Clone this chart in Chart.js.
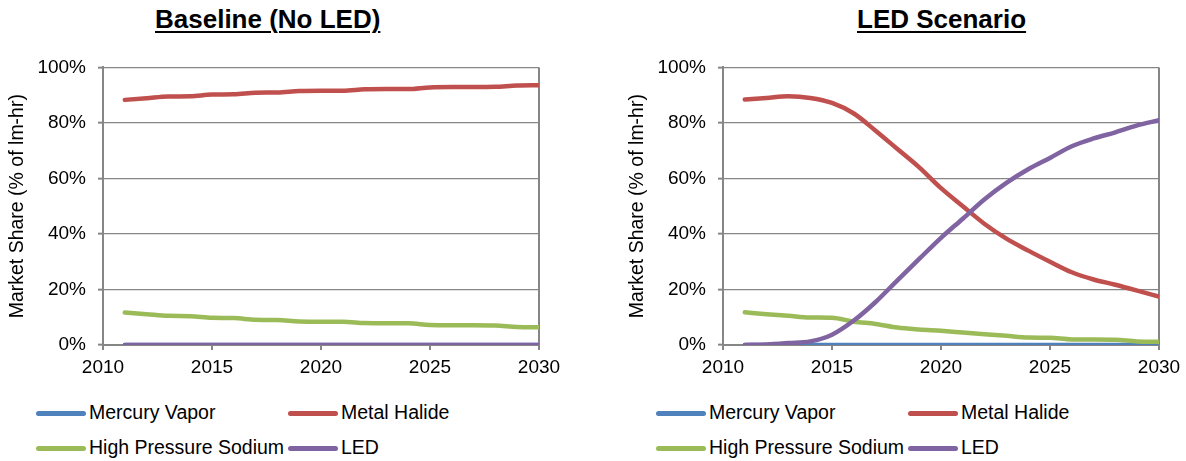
<!DOCTYPE html>
<html>
<head>
<meta charset="utf-8">
<script src="https://cdn.jsdelivr.net/npm/chart.js@4.4.1/dist/chart.umd.min.js"></script>
<style>
  html, body { margin: 0; padding: 0; background: #fff; }
  body { width: 1186px; height: 461px; position: relative; overflow: hidden; font-family: 'Liberation Sans', Arial, sans-serif; }
  .title { position: absolute; top: 6px; font-weight: bold; font-size: 26px; line-height: 26px; color: #000;
           text-decoration: underline; text-decoration-thickness: 2px; text-underline-offset: 3px; white-space: nowrap; }
  canvas { position: absolute; top: 44px; }
  .leg { position: absolute; display: flex; align-items: center; font-size: 19.5px; line-height: 19.5px; height: 20px; color: #000; white-space: nowrap; }
  .leg .sw { display: inline-block; width: 50px; height: 5px; border-radius: 3px; margin-right: 3px; }
</style>
</head>
<body>
<div class="title" style="left:155px">Baseline (No LED)</div>
<div class="title" style="left:857px">LED Scenario</div>
<canvas id="c1" width="569" height="341" style="left:0px"></canvas>
<canvas id="c2" width="569" height="341" style="left:620px"></canvas>
<div id="legends"></div>
<script>
// ---- data ----
const years = [2011, 2012, 2013, 2014, 2015, 2016, 2017, 2018, 2019, 2020,
               2021, 2022, 2023, 2024, 2025, 2026, 2027, 2028, 2029, 2030];
const seriesNames = ['Mercury Vapor', 'Metal Halide', 'High Pressure Sodium', 'LED'];
const seriesColors = ['#4F81BD', '#C0504D', '#9BBB59', '#8064A2'];
const xTicks = [2010, 2015, 2020, 2025, 2030];
const yTicks = [0, 20, 40, 60, 80, 100];

// Baseline (No LED)
const baseMV  = [0, 0, 0, 0, 0, 0, 0, 0, 0, 0, 0, 0, 0, 0, 0, 0, 0, 0, 0, 0];
const baseMH  = [88.3, 88.9, 89.5, 89.6, 90.2, 90.3, 90.9, 91.0, 91.5, 91.6,
                 91.6, 92.1, 92.2, 92.2, 92.8, 92.9, 92.9, 93.0, 93.5, 93.6];
const baseHPS = [11.7, 11.1, 10.5, 10.4, 9.8, 9.7, 9.1, 9.0, 8.5, 8.4,
                 8.4, 7.9, 7.8, 7.8, 7.2, 7.1, 7.1, 7.0, 6.5, 6.4];
const baseLED = [0, 0, 0, 0, 0, 0, 0, 0, 0, 0, 0, 0, 0, 0, 0, 0, 0, 0, 0, 0];

// LED Scenario
const ledMV  = [0, 0, 0, 0, 0, 0, 0, 0, 0, 0, 0, 0, 0, 0, 0, 0, 0, 0, 0, 0];
const ledMH  = [88.4, 89.0, 89.6, 89.0, 87.2, 83.4, 77.2, 70.6, 64.0, 56.5,
                50.0, 43.6, 38.3, 34.0, 30.0, 26.2, 23.6, 21.7, 19.6, 17.4];
const ledHPS = [11.8, 11.1, 10.5, 9.9, 9.8, 8.4, 7.6, 6.3, 5.6, 5.1,
                4.5, 3.9, 3.3, 2.7, 2.6, 2.0, 2.0, 1.9, 1.3, 1.2];
const ledLED = [0, 0.2, 0.7, 1.3, 3.7, 8.8, 15.5, 23.3, 31.0, 38.6,
                45.5, 52.5, 58.4, 63.3, 67.4, 71.6, 74.4, 76.6, 79.1, 81.0];

// ---- chart building ----
const FONT = "'Liberation Sans', Arial, sans-serif";
const GRAY = '#868686';

function makeDatasets(valueSets) {
  const orders = [4, 3, 2, 1];
  return valueSets.map((vals, i) => ({
    label: seriesNames[i],
    data: years.map((yr, j) => ({ x: yr, y: vals[j] })),
    borderColor: seriesColors[i],
    backgroundColor: seriesColors[i],
    borderWidth: 4.5,
    pointRadius: 0,
    pointHoverRadius: 0,
    cubicInterpolationMode: 'monotone',
    borderCapStyle: 'round',
    borderJoinStyle: 'round',
    fill: false,
    order: orders[i]
  }));
}

function makeChart(id, valueSets) {
  return new Chart(document.getElementById(id), {
    type: 'line',
    data: { datasets: makeDatasets(valueSets) },
    options: {
      responsive: false,
      animation: false,
      events: [],
      layout: { padding: { left: 0, right: 30, top: 20, bottom: 0 } },
      plugins: { legend: { display: false }, tooltip: { enabled: false }, title: { display: false } },
      scales: {
        x: {
          type: 'linear',
          min: xTicks[0],
          max: xTicks[xTicks.length - 1],
          afterBuildTicks: (s) => { s.ticks = xTicks.map(v => ({ value: v })); },
          afterFit: (s) => { s.height = 40; },
          ticks: {
            callback: (v) => String(v),
            font: { family: FONT, size: 19 },
            color: '#000',
            padding: 6,
            maxRotation: 0,
            autoSkip: false
          },
          grid: {
            color: (ctx) => (ctx.tick && ctx.tick.value === xTicks[xTicks.length - 1]) ? GRAY : 'rgba(0,0,0,0)',
            lineWidth: 2,
            drawTicks: true,
            tickLength: 5,
            tickColor: GRAY,
            tickWidth: 2
          },
          border: { display: true, color: GRAY, width: 2 }
        },
        y: {
          min: yTicks[0],
          max: yTicks[yTicks.length - 1],
          afterBuildTicks: (s) => { s.ticks = yTicks.map(v => ({ value: v })); },
          afterFit: (s) => { s.width = 103; },
          ticks: {
            callback: (v) => v + '%',
            font: { family: FONT, size: 19 },
            color: '#000',
            padding: 12
          },
          grid: {
            color: GRAY,
            lineWidth: 1.3,
            borderDash: [7, 4],
            drawTicks: true,
            tickLength: 5,
            tickColor: GRAY,
            tickWidth: 2,
            tickBorderDash: []
          },
          border: { display: true, color: GRAY, width: 2 },
          title: {
            display: true,
            text: 'Market Share (% of lm-hr)',
            font: { family: FONT, size: 19.5 },
            color: '#000',
            padding: { top: 6, bottom: 0 }
          }
        }
      }
    }
  });
}

makeChart('c1', [baseMV, baseMH, baseHPS, baseLED]);
makeChart('c2', [ledMV, ledMH, ledHPS, ledLED]);

// ---- legends (HTML, built from series arrays) ----
const legendHost = document.getElementById('legends');
const chartOffsets = [0, 620];
const colLeft = [36, 288];
const rowTop = [403, 438];
chartOffsets.forEach(off => {
  seriesNames.forEach((name, i) => {
    const d = document.createElement('div');
    d.className = 'leg';
    d.style.left = (off + colLeft[i % 2]) + 'px';
    d.style.top = rowTop[Math.floor(i / 2)] + 'px';
    const sw = document.createElement('span');
    sw.className = 'sw';
    sw.style.background = seriesColors[i];
    d.appendChild(sw);
    d.appendChild(document.createTextNode(name));
    legendHost.appendChild(d);
  });
});
</script>
</body>
</html>
